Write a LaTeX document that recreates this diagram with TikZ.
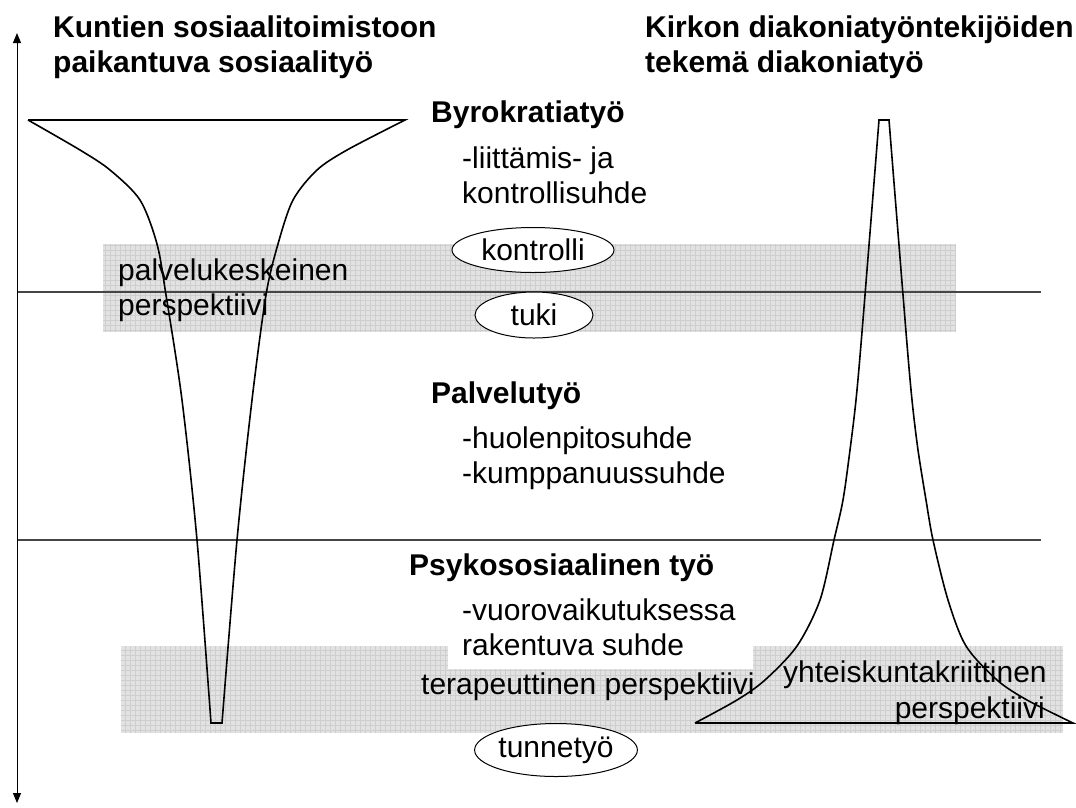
\documentclass[tikz,border=0pt]{standalone}
\usepackage{fontspec}
\setmainfont{Liberation Sans}
\usetikzlibrary{arrows.meta,shapes.geometric}
\definecolor{bandgray}{RGB}{226,226,226}
\definecolor{bandline}{RGB}{206,206,206}
\definecolor{levelgray}{RGB}{70,70,70}
\tikzset{
	txt/.style={anchor=base west, inner sep=0pt, font=\fontsize{30}{34}\selectfont},
	heading/.style={txt, font=\fontsize{30}{34}\selectfont\bfseries},
	oval/.style={ellipse, draw, fill=white, inner sep=0pt, line width=1pt, font=\fontsize{30}{34}\selectfont},
	band/.style={fill=bandgray},
	bandgrid/.style={draw=bandline, line width=0.45pt},
	divider/.style={draw=levelgray, line width=1.4pt},
	outline/.style={draw, line width=1.6pt, line join=miter}
}
\begin{document}
\begin{tikzpicture}[x=1pt,y=-1pt,>={Triangle[width=8pt,length=10pt]}]
	\useasboundingbox (0,0) rectangle (1076,807);
	% perspektiivit
	\fill[band] (103,244) rectangle (955,332);
	\draw[bandgrid, step=5pt] (103,332) grid (955,244);
	\fill[band] (121,646) rectangle (1063,733);
	\draw[bandgrid, step=5pt] (121,733) grid (1063,646);
	\fill[white] (448,590) rectangle (753,669);
	% tasot
	\draw[divider] (17,292) -- (1041,292);
	\draw[divider] (17,540) -- (1041,540);
	\coordinate (axis-top) at (17,33);
	\coordinate (axis-bot) at (17,803);
	\draw[<->, line width=1pt] (axis-bot) -- (axis-top);
	% kunnat
	\draw[outline] (28,120) -- (405,120) -- plot[smooth] coordinates {(405,120) (347,150) (317,170) (293,200) (278,244) (266,295) (252,400) (237,540) (222,723)}
		-- (211,723) -- plot[smooth] coordinates {(211,723) (197,540) (182,400) (166,295) (157,244) (140,200) (110,170) (80,150) (28,120)};
	% kirkko
	\draw[outline] (695,723) -- (1073,723) -- plot[smooth] coordinates {(1073,723) (1027,700) (997,680) (966,646) (948,600) (933,540) (926,500) (918,450) (912,400) (906,332) (889,120)}
		-- (879,120) -- plot[smooth] coordinates {(879,120) (862,332) (856,400) (850,450) (843,500) (834,540) (820,600) (797,646) (765,680) (737,700) (695,723)};
	\node[heading] (kunta-1) at (53,37) {Kuntien sosiaalitoimistoon};
	\node[heading] (kunta-2) at (53,72) {paikantuva sosiaalityö};
	\node[heading] (kirkko-1) at (645,37) {Kirkon diakoniatyöntekijöiden};
	\node[heading] (kirkko-2) at (645,72) {tekemä diakoniatyö};
	\node[heading] (byro) at (431,122) {Byrokratiatyö};
	\node[txt] (byro-1) at (462,168) {-liittämis- ja};
	\node[txt] (byro-2) at (462,203) {kontrollisuhde};
	\node[txt] (palvp-1) at (118,280) {palvelukeskeinen};
	\node[txt] (palvp-2) at (118,315) {perspektiivi};
	\node[heading] (palvelu) at (431,403) {Palvelutyö};
	\node[txt] (palvelu-1) at (462,448) {-huolenpitosuhde};
	\node[txt] (palvelu-2) at (462,483) {-kumppanuussuhde};
	\node[heading] (psyko) at (409,575) {Psykososiaalinen työ};
	\node[txt] (psyko-1) at (462,620) {-vuorovaikutuksessa};
	\node[txt] (psyko-2) at (462,655) {rakentuva suhde};
	\node[txt] (terap) at (421,694) {terapeuttinen perspektiivi};
	\node[txt] (yhteis-1) at (783,682) {yhteiskuntakriittinen};
	\node[txt, anchor=base east] (yhteis-2) at (1045,718) {perspektiivi};
	\node[oval, minimum width=162pt, minimum height=45pt] (kontrolli) at (533,250) {kontrolli};
	\node[oval, minimum width=118pt, minimum height=46pt] (tuki) at (534,315) {tuki};
	\node[oval, minimum width=152pt, minimum height=53pt] (tunne) at (556,750) {tunnetyö};
\end{tikzpicture}
\end{document}
